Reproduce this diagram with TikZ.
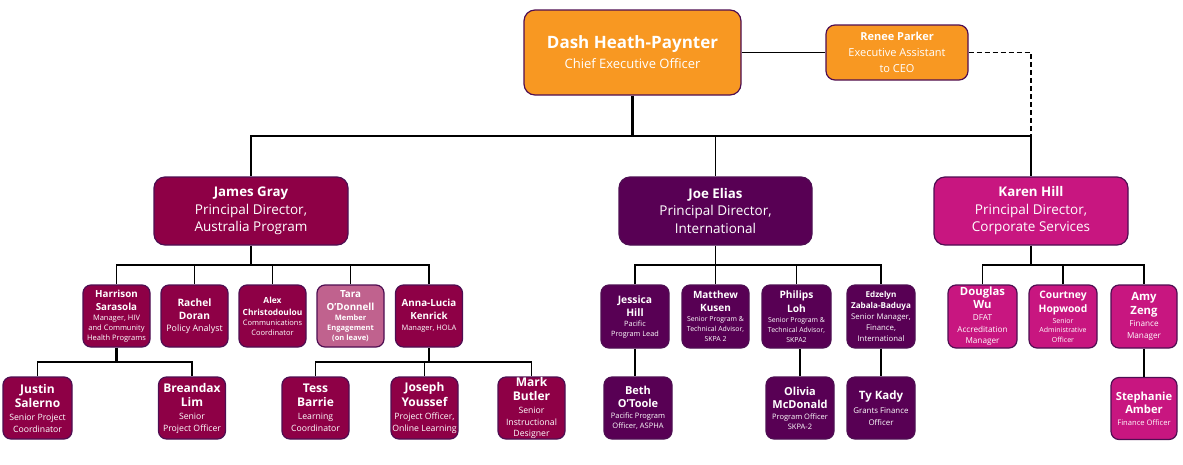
\documentclass[tikz,border=0pt]{standalone}
\usepackage{fontspec}
\setmainfont{Open Sans}
\definecolor{orgcol}{RGB}{248,152,34}
\definecolor{aucol}{RGB}{142,0,70}
\definecolor{intcol}{RGB}{88,0,84}
\definecolor{corpcol}{RGB}{200,22,128}
\definecolor{leavecol}{RGB}{192,98,142}
\definecolor{bordcol}{RGB}{78,14,82}
\newcommand\fs[2]{\fontsize{#1}{#2}\selectfont}
\newcommand\nm[1]{\fontsize{#1}{#1}\selectfont\bfseries}
\begin{document}
\begin{tikzpicture}[x=1pt,y=-1pt,
  box/.style={draw=bordcol, line width=1.2pt, rounded corners=8pt, text=white, align=center, inner sep=0pt},
  big/.style={box, rounded corners=11pt},
  small/.style={box, minimum width=67pt, minimum height=62pt, font=\fs{7.5}{10}},
  low/.style={font=\fs{8.7}{12}},
  au/.style={small, fill=aucol},
  intl/.style={small, fill=intcol},
  corp/.style={small, fill=corpcol},
  conn/.style={draw=black, line width=1.6pt},
  trunk/.style={draw=black, line width=3.6pt}]
\useasboundingbox (0,0) rectangle (1183,464);

% top level
\node[big, fill=orgcol, minimum width=217pt, minimum height=85pt, font=\fs{13}{20}] (ceo) at (632.5,52.5)
  {\nm{17}Dash Heath-Paynter\\ Chief Executive Officer};
\node[box, rounded corners=9pt, fill=orgcol, minimum width=142pt, minimum height=55pt, font=\fs{11}{16}] (renee) at (897,52.5)
  {\nm{11}Renee Parker\\ Executive Assistant\\ to CEO};

% directors
\node[big, fill=aucol, minimum width=194pt, minimum height=68pt, font=\fs{13.5}{17.5}] (james) at (251,211)
  {\nm{13.3}James Gray\\ Principal Director,\\ Australia Program};
\node[big, fill=intcol, minimum width=193pt, minimum height=68pt, font=\fs{13.5}{17.5}] (joe) at (715.5,211)
  {\nm{13.3}Joe Elias\\ Principal Director,\\ International};
\node[big, fill=corpcol, minimum width=194pt, minimum height=68pt, font=\fs{13.5}{17.5}] (karen) at (1031,211)
  {\nm{13.3}Karen Hill\\ Principal Director,\\ Corporate Services};

% Australia program level 2
\node[au] (harrison) at (116.5,316)
  {\nm{9.8}Harrison\\[3pt] \nm{9.8}Sarasola\\ Manager, HIV\\ and Community\\ Health Programs};
\node[au] (rachel) at (194.5,316)
  {\nm{10.2}Rachel\\[3pt] \nm{10.2}Doran\\[2pt] \fs{8.9}{10}Policy Analyst};
\node[au] (alex) at (272.5,316)
  {\nm{8.4}Alex\\[2pt] \nm{8.4}Christodoulou\\ Communications\\ Coordinator};
\node[small, fill=leavecol] (tara) at (350.5,316)
  {\nm{9.8}Tara\\[3pt] \nm{9.8}O'Donnell\\ \bfseries Member\\ \bfseries Engagement\\ \bfseries (on leave)};
\node[au] (anna) at (429,316)
  {\nm{9.8}Anna-Lucia\\[3pt] \nm{9.8}Kenrick\\[1pt] Manager, HOLA};

% Australia program level 3
\node[au, low, minimum width=69pt] (justin) at (37.5,408)
  {\nm{12}Justin\\[2pt] \nm{12}Salerno\\[1pt] Senior Project\\ Coordinator};
\node[au, low] (breandax) at (192,408)
  {\nm{12}Breandax\\[2pt] \nm{12}Lim\\[1pt] Senior\\ Project Officer};
\node[au, low] (tess) at (315.5,408)
  {\nm{12}Tess\\[2pt] \nm{12}Barrie\\[1pt] Learning\\ Coordinator};
\node[au, low] (joseph) at (424.5,408)
  {\nm{12}Joseph\\[2pt] \nm{12}Youssef\\[1pt] Project Officer,\\ Online Learning};
\node[au, low] (mark) at (531.5,408)
  {\nm{12}Mark\\[2pt] \nm{12}Butler\\[1pt] Senior\\ Instructional\\[-1pt] Designer};

% International level 2
\node[intl, minimum width=68pt, minimum height=63pt, font=\fs{7.3}{10}] (jessica) at (635,316.5)
  {\nm{10.3}Jessica\\[3pt] \nm{10.3}Hill\\ Pacific\\ Program Lead};
\node[intl, minimum height=63pt, font=\fs{6.9}{10}] (matthew) at (715.5,316.5)
  {\nm{10}Matthew\\[3pt] \nm{10}Kusen\\ Senior Program \&\\ Technical Advisor,\\ SKPA 2};
\node[intl, minimum width=69pt, minimum height=63pt, font=\fs{6.9}{10}] (philips) at (796.5,316.5)
  {\nm{10.2}Philips\\[3pt] \nm{10.2}Loh\\ Senior Program \&\\ Technical Advisor,\\ SKPA2};
\node[intl, minimum width=68pt, minimum height=63pt, font=\fs{7.8}{11}] (edzelyn) at (881,316.5)
  {\nm{8.1}Edzelyn\\ \nm{8.1}Zabala-Baduya\\ Senior Manager,\\ Finance,\\ International};

% International level 3
\node[intl, minimum width=68pt, font=\fs{7.5}{10}] (beth) at (638,408)
  {\nm{11}Beth\\[3pt] \nm{11}O'Toole\\[1pt] Pacific Program\\ Officer, ASPHA};
\node[intl, minimum width=68pt, font=\fs{7.5}{10}] (olivia) at (800,408)
  {\nm{11}Olivia\\[3pt] \nm{11}McDonald\\[1pt] Program Officer\\ SKPA-2};
\node[intl, minimum width=68pt, font=\fs{7.9}{12}] (ty) at (881,408)
  {\nm{11.5}Ty Kady\\[2pt] Grants Finance\\ Officer};

% Corporate level 2
\node[corp, minimum width=69pt, minimum height=63pt, font=\fs{8.2}{12}] (douglas) at (982.5,316.5)
  {\nm{11.3}Douglas\\[1pt] \nm{11.3}Wu\\ DFAT\\ Accreditation\\[-1pt] Manager};
\node[corp, minimum width=68pt, minimum height=63pt, font=\fs{7}{9.5}] (courtney) at (1063,316.5)
  {\nm{10.3}Courtney\\[3pt] \nm{10.3}Hopwood\\[1pt] Senior\\ Administrative\\ Officer};
\node[corp, minimum width=66pt, minimum height=63pt, font=\fs{8.2}{12}] (amy) at (1144,316.5)
  {\nm{11.3}Amy\\[2pt] \nm{11.3}Zeng\\ Finance\\ Manager};
\node[corp, minimum width=66pt, font=\fs{7.6}{12}] (stephanie) at (1144,408.5)
  {\nm{11.2}Stephanie\\[1pt] \nm{11.2}Amber\\ Finance Officer};

% bus coordinates
\coordinate (b0) at (0,136);
\coordinate (b1) at (0,265);
\coordinate (b2) at (0,362);

% connectors
\draw[conn] (ceo.east) -- (renee.west);
\draw[conn, dashed, dash pattern=on 5pt off 3pt] (renee.east) -| (karen.north);
\draw[conn] (james.north) -- (james.north |- b0) -- (karen.north |- b0) -- (karen.north);
\draw[trunk] (ceo.south) -- (ceo.south |- b0);
\draw[conn] (joe.north |- b0) -- (joe.north);

\draw[conn] (james.south) -- (james.south |- b1);
\draw[conn] (harrison.north) -- (harrison.north |- b1) -- (anna.north |- b1) -- (anna.north);
\foreach \n in {rachel,alex,tara} \draw[conn] (\n.north) -- (\n.north |- b1);

\draw[trunk, line width=3pt] (harrison.south) -- (harrison.south |- b2);
\draw[conn] (justin.north) -- (justin.north |- b2) -- (breandax.north |- b2) -- (breandax.north);
\draw[conn] (anna.south) -- (anna.south |- b2);
\draw[conn] (tess.north) -- (tess.north |- b2) -- (mark.north |- b2) -- (mark.north);
\draw[conn] (joseph.north) -- (joseph.north |- b2);

\draw[conn] (joe.south) -- (joe.south |- b1);
\draw[conn] (jessica.north) -- (jessica.north |- b1) -- (edzelyn.north |- b1) -- (edzelyn.north);
\foreach \n in {matthew,philips} \draw[conn] (\n.north) -- (\n.north |- b1);
\draw[conn] (jessica.south) -- (jessica.south |- beth.north);
\draw[conn] (olivia.north) -- (olivia.north |- philips.south);
\draw[conn] (edzelyn.south) -- (ty.north);

\draw[conn] (karen.south) -- (karen.south |- b1);
\draw[conn] (douglas.north) -- (douglas.north |- b1) -- (amy.north |- b1) -- (amy.north);
\draw[conn] (courtney.north) -- (courtney.north |- b1);
\draw[conn] (amy.south) -- (stephanie.north);
\end{tikzpicture}
\end{document}
